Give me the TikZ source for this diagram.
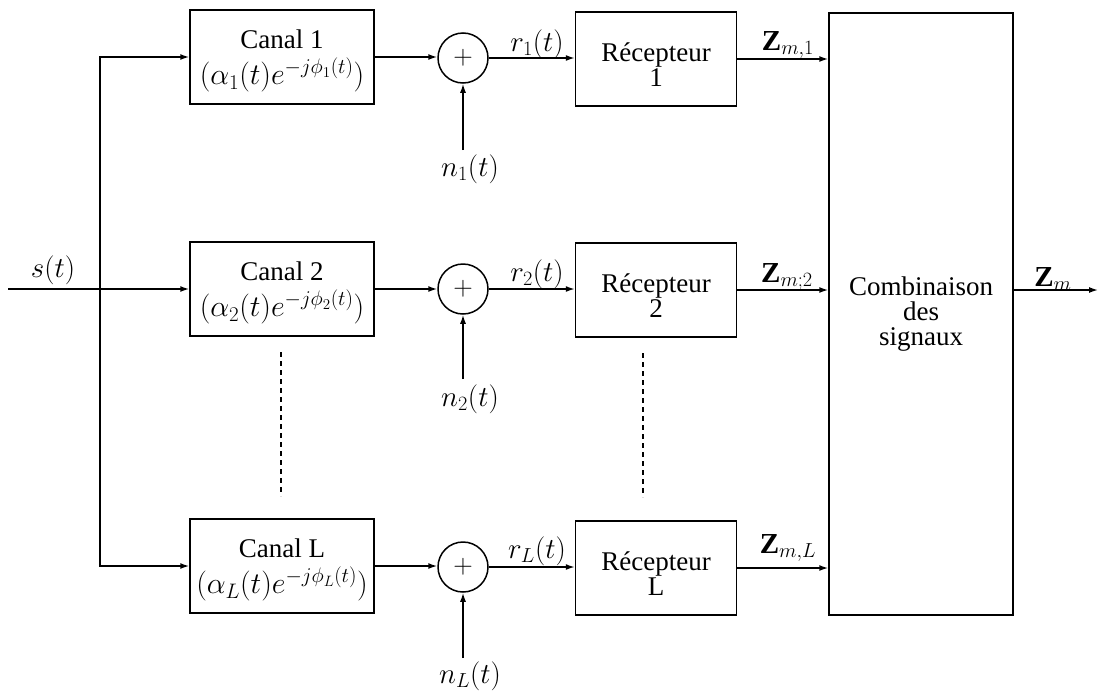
\RequirePackage{fix-cm}
\documentclass[tikz,border=0pt]{standalone}
\usepackage{fontspec}
\setmainfont{Liberation Serif}
\usetikzlibrary{arrows.meta}
\newcommand{\tstrut}[1]{\rule{0pt}{#1}}
\newcommand{\bigmath}[1]{{\fontsize{30}{36}\selectfont$#1$}}
\begin{document}
\begin{tikzpicture}[x=1pt,y=-1pt,
  lbl/.style={inner sep=0pt, font=\fontsize{29}{25}\selectfont},
  blk/.style={draw, line width=1.5pt, align=center, inner sep=0pt, font=\fontsize{27}{25}\selectfont},
  canalbox/.style={blk, minimum width=184pt, minimum height=94pt, font=\fontsize{27}{36}\selectfont},
  recbox/.style={blk, minimum width=161pt, minimum height=94pt},
  sumc/.style={draw, circle, line width=1.5pt, minimum size=50pt, inner sep=0pt, font=\fontsize{27}{27}\selectfont},
  conn/.style={line width=1.5pt, -{Latex[length=9pt,width=6pt]}},
  dotline/.style={line width=1.5pt, dash pattern=on 5pt off 4pt}]
\useasboundingbox (0,0) rectangle (1099,691);

% channel boxes
\node[canalbox] (c1) at (282,57) {\tstrut{27pt}Canal 1\\\bigmath{(\alpha_1(t)e^{-j\phi_1(t)})}};
\node[canalbox] (c2) at (282,289) {\tstrut{27pt}Canal 2\\\bigmath{(\alpha_2(t)e^{-j\phi_2(t)})}};
\node[canalbox] (cL) at (282,566) {\tstrut{27pt}Canal L\\\bigmath{(\alpha_L(t)e^{-j\phi_L(t)})}};

% adders
\node[sumc] (s1) at (463,58) {$+$};
\node[sumc] (s2) at (463,289) {$+$};
\node[sumc] (sL) at (463,567) {$+$};

% receivers
\node[recbox] (r1) at (656,59) {\tstrut{29pt}Récepteur\\1};
\node[recbox] (r2) at (656,290) {\tstrut{29pt}Récepteur\\2};
\node[recbox] (rL) at (656,568) {\tstrut{29pt}Récepteur\\L};

% combiner
\node[blk, minimum width=184pt, minimum height=602pt] (comb) at (921,314) {Combinaison\\des\\signaux};

% input and split
\coordinate (in) at (8,289);
\coordinate (split) at (100,289);
\draw[conn] (in) -- (c2.west);
\draw[conn] (split) |- (c1.west);
\draw[conn] (split) |- (cL.west);
\node[lbl] (slab) at (53,270) {$s(t)$};

% channel -> adder
\draw[conn] (c1.east) -- (c1.east -| s1.west);
\draw[conn] (c2.east) -- (c2.east -| s2.west);
\draw[conn] (cL.east) -- (cL.east -| sL.west);

% noise
\coordinate (n1s) at (463,150);
\coordinate (n2s) at (463,379);
\coordinate (nLs) at (463,658);
\draw[conn] (n1s) -- (s1.south);
\draw[conn] (n2s) -- (s2.south);
\draw[conn] (nLs) -- (sL.south);
\node[lbl] (n1) at (470,169) {$n_1(t)$};
\node[lbl] (n2) at (470,399) {$n_2(t)$};
\node[lbl] (nL) at (470,676) {$n_L(t)$};

% adder -> receiver
\draw[conn] (s1.east) -- (s1.east -| r1.west);
\draw[conn] (s2.east) -- (s2.east -| r2.west);
\draw[conn] (sL.east) -- (sL.east -| rL.west);
\node[lbl] (rl1) at (537,44) {$r_1(t)$};
\node[lbl] (rl2) at (537,274) {$r_2(t)$};
\node[lbl] (rlL) at (537,551) {$r_L(t)$};

% receiver -> combiner
\draw[conn] (r1.east) -- (r1.east -| comb.west);
\draw[conn] (r2.east) -- (r2.east -| comb.west);
\draw[conn] (rL.east) -- (rL.east -| comb.west);
\node[lbl] (z1) at (788,45) {$\mathbf{Z}_{m,1}$};
\node[lbl] (z2) at (787,277) {$\mathbf{Z}_{m;2}$};
\node[lbl] (zL) at (788,548) {$\mathbf{Z}_{m,L}$};

% output
\coordinate (out) at (1098,290);
\draw[conn] (comb.east |- out) -- (out);
\node[lbl] (zout) at (1053,279) {$\mathbf{Z}_m$};

% dashed continuation lines
\coordinate (d1a) at (281,352);
\coordinate (d1b) at (281,496);
\coordinate (d2a) at (643,353);
\coordinate (d2b) at (643,497);
\draw[dotline] (d1a) -- (d1b);
\draw[dotline] (d2a) -- (d2b);
\end{tikzpicture}
\end{document}
